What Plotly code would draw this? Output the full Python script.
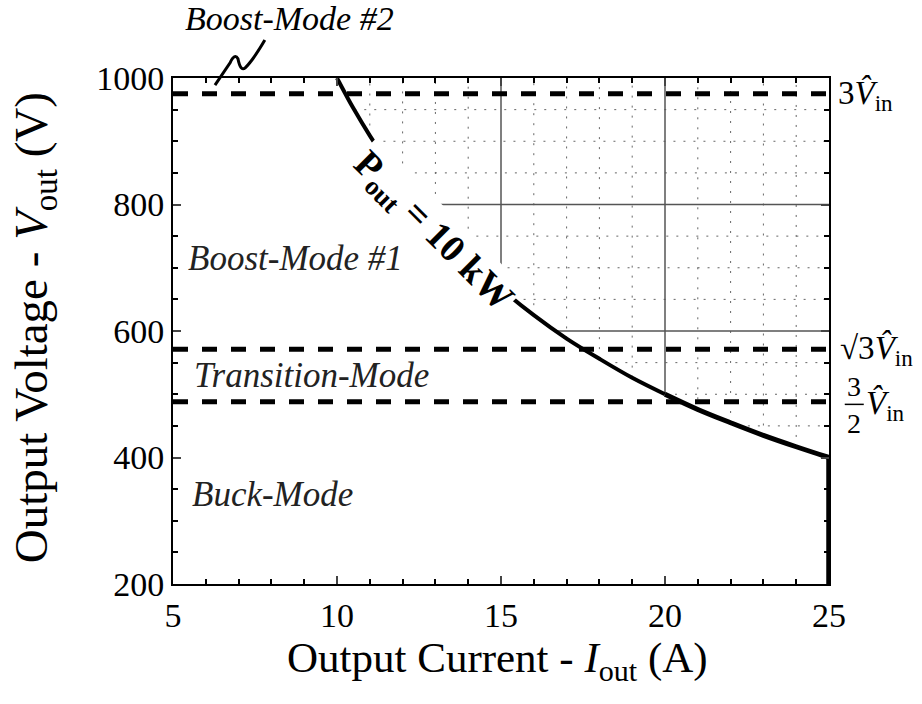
import plotly.graph_objects as go

# ---- data ----
P_OUT_W = 10000                      # constant-power boundary (10 kW)
I_curve = [10, 10.5, 11, 11.5, 12, 13, 14, 15, 16, 17, 18, 19, 20]
V_curve = [1000, 952, 909, 870, 833, 769, 714, 667, 625, 588, 556, 526, 500]
I_curve2 = [20, 21, 22, 23, 24, 25]
V_curve2 = [500, 476, 455, 435, 417, 400]
I_limit = [25, 25]                    # current limit
V_limit = [400, 200]

V_3vin = 975        # 3*Vin
V_sqrt3vin = 571    # sqrt(3)*Vin
V_1p5vin = 488      # 3/2*Vin

grid_I_minor = [11, 12, 13, 14, 16, 17, 18, 19, 21, 22, 23, 24]
grid_I_major = [15, 20]
grid_V_minor = [450, 500, 550, 650, 700, 750, 850, 900, 950]
grid_V_major = [600, 800]

x_range = [5, 25]
y_range = [200, 1000]
x_ticks = [5, 10, 15, 20, 25]
y_ticks = [200, 400, 600, 800, 1000]

SERIF = "Liberation Serif"

fig = go.Figure()

# grid inside the region above the constant-power curve
for i in grid_I_minor:
    fig.add_trace(go.Scatter(x=[i, i], y=[P_OUT_W / i, y_range[1]], mode="lines",
                             line=dict(color="#666", width=1, dash="2px,8px"),
                             hoverinfo="skip", showlegend=False))
for v in grid_V_minor:
    fig.add_trace(go.Scatter(x=[P_OUT_W / v, x_range[1]], y=[v, v], mode="lines",
                             line=dict(color="#666", width=1, dash="2px,8px"),
                             hoverinfo="skip", showlegend=False))
for i in grid_I_major:
    fig.add_trace(go.Scatter(x=[i, i], y=[P_OUT_W / i, y_range[1]], mode="lines",
                             line=dict(color="#555", width=1.5),
                             hoverinfo="skip", showlegend=False))
for v in grid_V_major:
    fig.add_trace(go.Scatter(x=[P_OUT_W / v, x_range[1]], y=[v, v], mode="lines",
                             line=dict(color="#555", width=1.5),
                             hoverinfo="skip", showlegend=False))

# mode boundaries (dashed)
for v in [V_3vin, V_sqrt3vin, V_1p5vin]:
    fig.add_trace(go.Scatter(x=x_range, y=[v, v], mode="lines",
                             line=dict(color="black", width=5, dash="15px,14px"),
                             hoverinfo="skip", showlegend=False))

# constant power curve and current limit
fig.add_trace(go.Scatter(x=I_curve, y=V_curve, mode="lines", line_shape="spline",
                         line=dict(color="black", width=4), showlegend=False))
fig.add_trace(go.Scatter(x=I_curve2, y=V_curve2, mode="lines", line_shape="spline",
                         line=dict(color="black", width=5), showlegend=False))
fig.add_trace(go.Scatter(x=I_limit, y=V_limit, mode="lines",
                         line=dict(color="black", width=5.5), showlegend=False))

ann = []
# curve label
ann.append(dict(x=12.9, y=757, xref="x", yref="y", text="<b>P<sub>out</sub> = 10 kW</b>",
                textangle=45, showarrow=False, bgcolor="white", borderpad=2,
                font=dict(family=SERIF, size=38, color="black")))
# mode labels
for txt, xx, yy in [("Boost-Mode #1", 5.4, 715), ("Transition-Mode", 5.58, 529),
                    ("Buck-Mode", 5.52, 342)]:
    ann.append(dict(x=xx, y=yy, xref="x", yref="y", text=f"<i>{txt}</i>",
                    xanchor="left", yanchor="middle", showarrow=False,
                    font=dict(family=SERIF, size=35, color="#222")))
ann.append(dict(x=0.178, y=1.117, xref="paper", yref="paper",
                text="<i>Boost-Mode #2</i>", showarrow=False,
                xanchor="center", yanchor="middle",
                font=dict(family=SERIF, size=34, color="black")))
# axis titles
ann.append(dict(x=0.494, y=-0.152, xref="paper", yref="paper",
                text="Output Current - <i>I</i><sub>out</sub> (A)", showarrow=False,
                xanchor="center", yanchor="middle",
                font=dict(family=SERIF, size=43, color="black")))
ann.append(dict(x=-0.21, y=0.506, xref="paper", yref="paper", textangle=-90,
                text="Output Voltage - <i>V</i><sub>out</sub> (V)", showarrow=False,
                xanchor="center", yanchor="middle",
                font=dict(family=SERIF, size=47, color="black")))
# right-side level labels
ann.append(dict(x=1.01, y=0.966, xref="paper", yref="paper",
                text="3<i>V\u0302</i><sub>in</sub>", showarrow=False,
                xanchor="left", yanchor="middle",
                font=dict(family=SERIF, size=33, color="black")))
ann.append(dict(x=1.014, y=0.462, xref="paper", yref="paper",
                text="\u221a3<i>V\u0302</i><sub>in</sub>", showarrow=False,
                xanchor="left", yanchor="middle",
                font=dict(family=SERIF, size=33, color="black")))
ann.append(dict(x=1.038, y=0.39, xref="paper", yref="paper", text="3", showarrow=False,
                xanchor="center", yanchor="middle",
                font=dict(family=SERIF, size=28, color="black")))
ann.append(dict(x=1.038, y=0.318, xref="paper", yref="paper", text="2", showarrow=False,
                xanchor="center", yanchor="middle",
                font=dict(family=SERIF, size=28, color="black")))
ann.append(dict(x=1.054, y=0.352, xref="paper", yref="paper",
                text="<i>V\u0302</i><sub>in</sub>", showarrow=False,
                xanchor="left", yanchor="middle",
                font=dict(family=SERIF, size=33, color="black")))

shapes = [
    dict(type="line", xref="paper", yref="paper", x0=1.024, x1=1.053, y0=0.355, y1=0.355,
         line=dict(color="black", width=1.5)),
    dict(type="path", xref="paper", yref="paper",
         path="M 0.140,1.075 Q 0.122,1.035 0.110,1.020 Q 0.103,1.012 0.099,1.038 "
              "Q 0.094,1.05 0.087,1.030 L 0.064,0.986",
         line=dict(color="black", width=3)),
]

fig.update_layout(
    width=922, height=704,
    margin=dict(l=173, r=93, t=78, b=120),
    plot_bgcolor="white", paper_bgcolor="white",
    annotations=ann, shapes=shapes,
    xaxis=dict(range=x_range, tickvals=x_ticks, ticks="inside", ticklen=8,
               tickwidth=1.5, showline=True, linecolor="black", linewidth=2,
               mirror="ticks", showgrid=False, zeroline=False,
               minor=dict(dtick=1, ticks="inside", ticklen=5, tickcolor="black"),
               tickfont=dict(family=SERIF, size=34, color="black")),
    yaxis=dict(range=y_range, tickvals=y_ticks, ticks="inside", ticklen=8,
               tickwidth=1.5, showline=True, linecolor="black", linewidth=2,
               mirror="ticks", showgrid=False, zeroline=False,
               minor=dict(dtick=50, ticks="inside", ticklen=5, tickcolor="black"),
               tickfont=dict(family=SERIF, size=34, color="black")),
)

fig.write_html("out.html")
